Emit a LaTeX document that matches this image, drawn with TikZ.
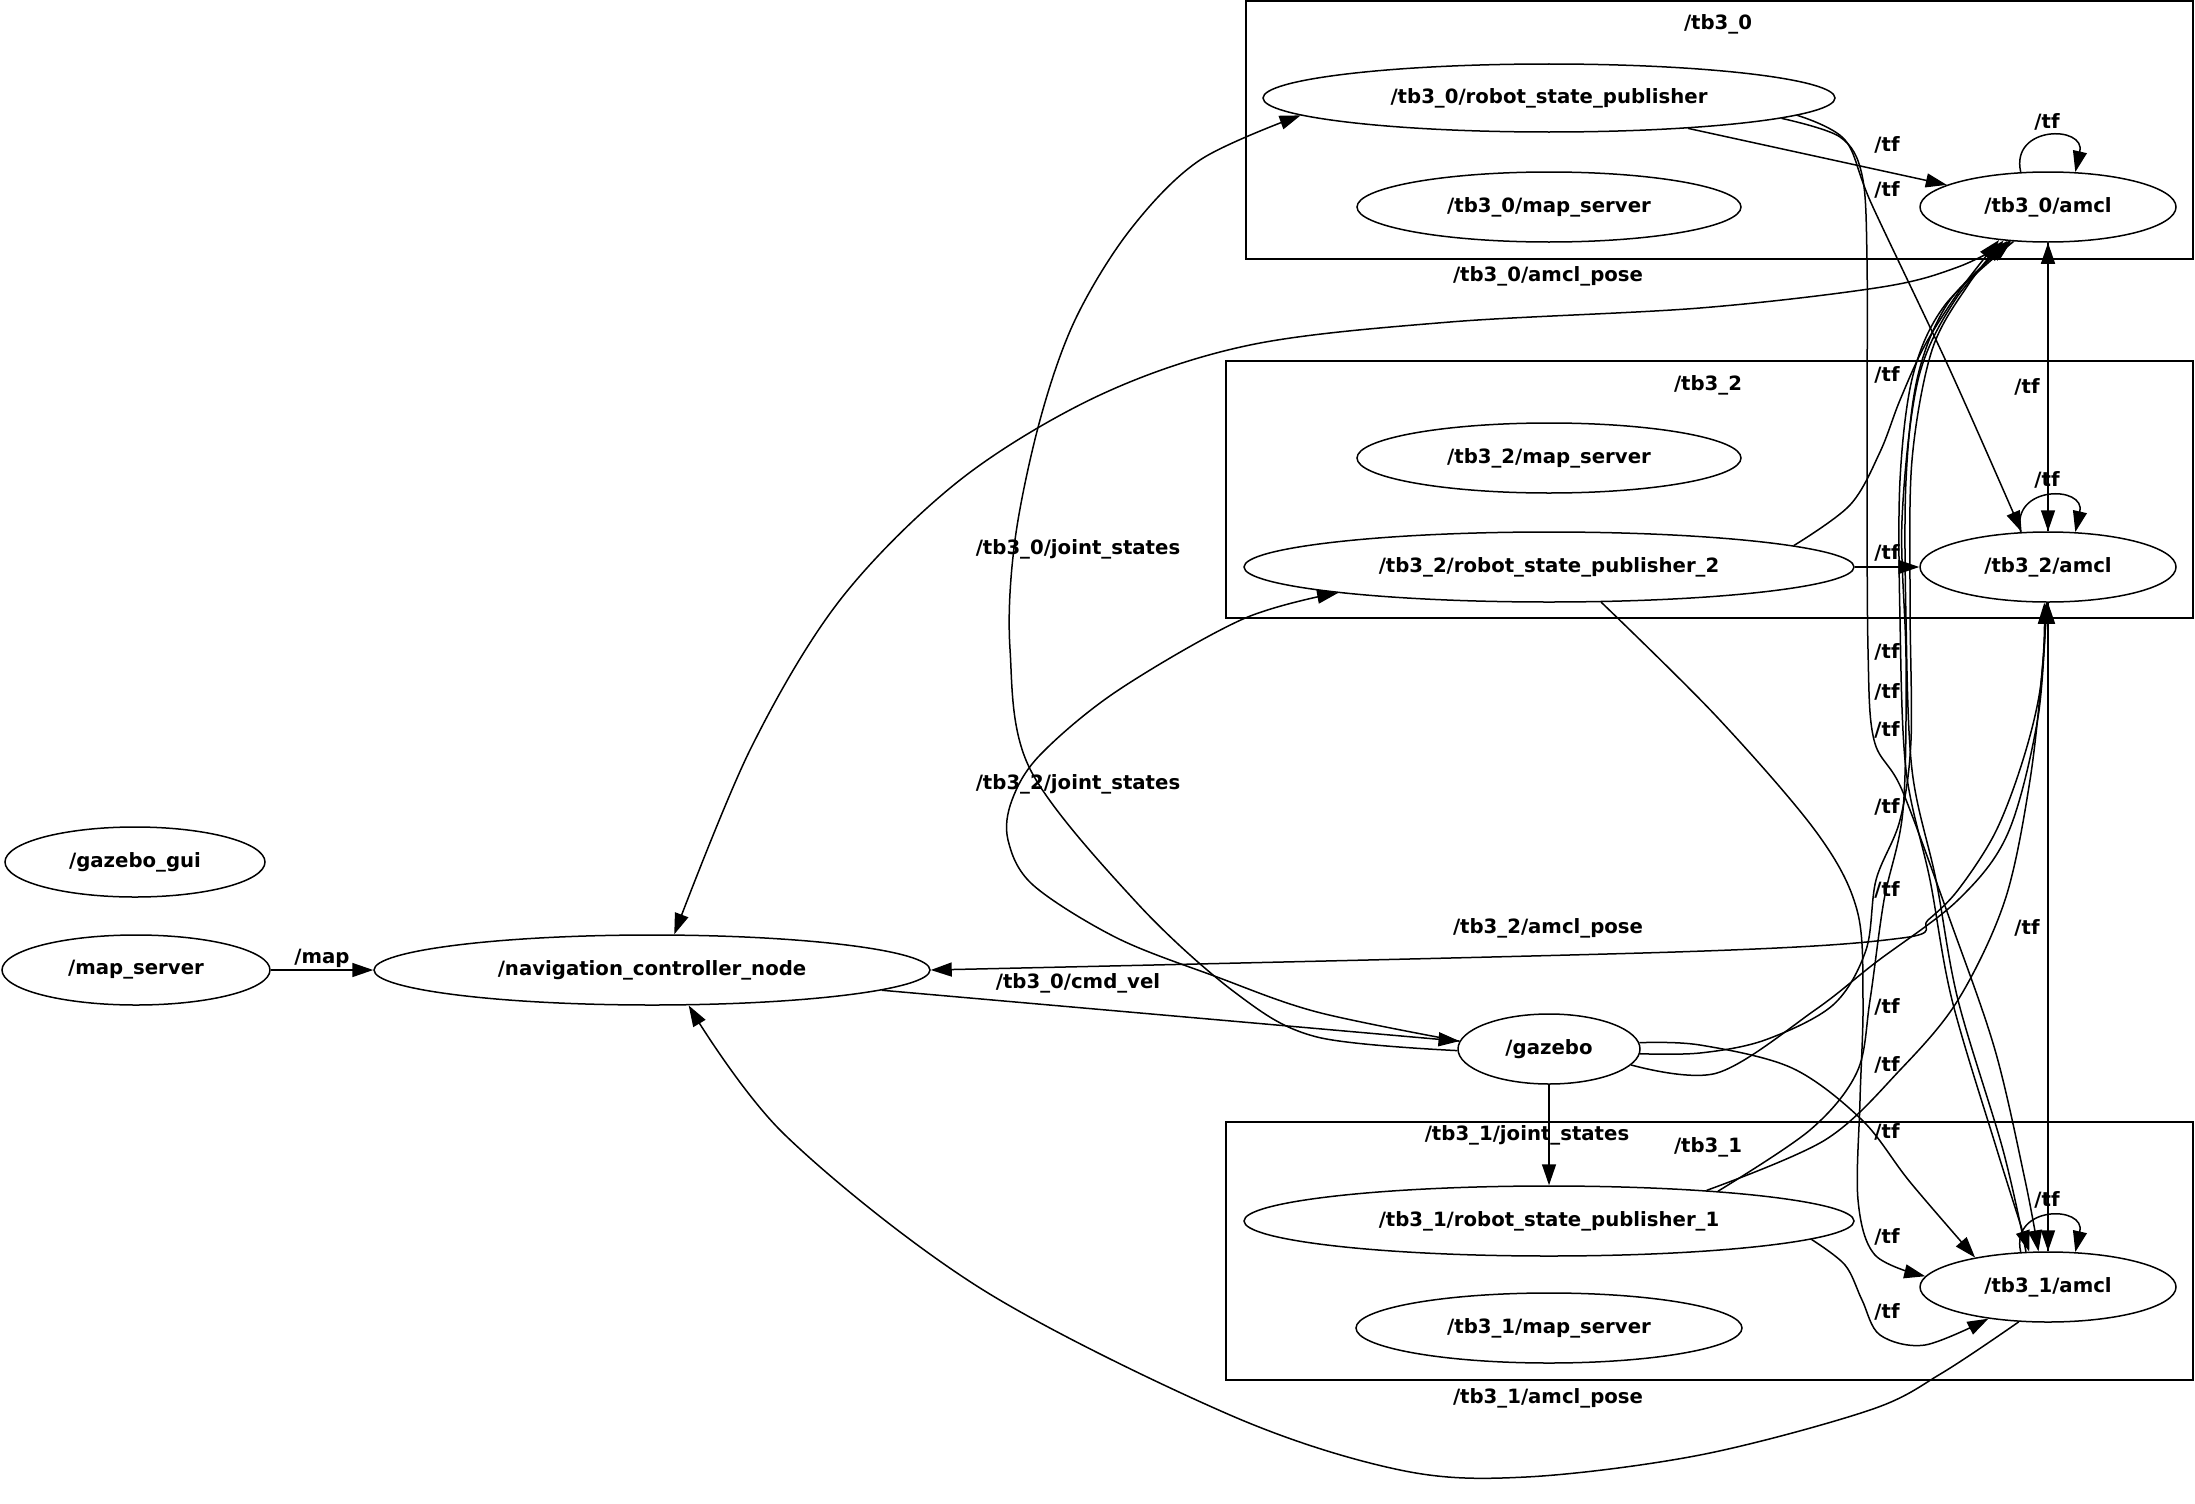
\documentclass[tikz,border=0pt]{standalone}
\usepackage{fontspec}
\setmainfont{DejaVu Sans}
\usetikzlibrary{shapes.geometric,arrows.meta}
\begin{document}
\begin{tikzpicture}[x=1pt,y=-1pt,
  every node/.style={font=\bfseries\fontsize{19.7}{22}\selectfont},
  ros/.style={ellipse,draw,line width=1.5pt,inner sep=0pt,minimum height=70pt},
  grp/.style={draw,line width=1.5pt},
  lbl/.style={inner sep=0pt},
  topic/.style={line width=1.5pt,-{Triangle[length=21pt,width=14pt]}},
  sm/.style={smooth,tension=0.55}]
\fill[white] (0,0) rectangle (2195,1504);
\useasboundingbox (0,0) rectangle (2195,1504);

% namespace groups
\draw[grp] (1246,1) rectangle (2193,259);
\draw[grp] (1226,361) rectangle (2193,618);
\draw[grp] (1226,1122) rectangle (2193,1380);
\node[lbl] (g0) at (1718,24) {/tb3\_0};
\node[lbl] (g2) at (1708,385) {/tb3\_2};
\node[lbl] (g1) at (1708,1147) {/tb3\_1};

% ROS nodes
\node[ros,minimum width=260pt] (gazebogui) at (135,862) {/gazebo\_gui};
\node[ros,minimum width=268pt] (mapserver) at (136,970) {/map\_server};
\node[ros,minimum width=556pt] (nav) at (652,970) {/navigation\_controller\_node};
\node[ros,minimum width=182pt] (gazebo) at (1549,1049) {/gazebo};
\node[ros,minimum width=572pt,minimum height=68pt] (rsp0) at (1549,98) {/tb3\_0/robot\_state\_publisher};
\node[ros,minimum width=384pt] (ms0) at (1549,207) {/tb3\_0/map\_server};
\node[ros,minimum width=256pt] (amcl0) at (2048,207) {/tb3\_0/amcl};
\node[ros,minimum width=384pt] (ms2) at (1549,458) {/tb3\_2/map\_server};
\node[ros,minimum width=610pt] (rsp2) at (1549,567) {/tb3\_2/robot\_state\_publisher\_2};
\node[ros,minimum width=256pt] (amcl2) at (2048,567) {/tb3\_2/amcl};
\node[ros,minimum width=610pt] (rsp1) at (1549,1221) {/tb3\_1/robot\_state\_publisher\_1};
\node[ros,minimum width=386pt] (ms1) at (1549,1328) {/tb3\_1/map\_server};
\node[ros,minimum width=256pt] (amcl1) at (2048,1287) {/tb3\_1/amcl};

% straight topic connections
\draw[topic] (mapserver) -- (nav);
\draw[topic] (nav) -- (gazebo);
\draw[topic] (gazebo) -- (rsp1);
\draw[topic] (rsp0) -- (amcl0);
\draw[topic] (rsp2) -- (amcl2);
\draw[topic] (amcl2) -- (amcl0);
\draw[topic] (amcl0) -- (amcl2);
\draw[topic] (amcl1) -- (amcl2);
\draw[topic] (amcl2) -- (amcl1);

% self loops on /tf
\draw[topic] (amcl0.128) .. controls (2010,125) and (2086,125) .. (amcl0.52);
\draw[topic] (amcl2.128) .. controls (2010,485) and (2086,485) .. (amcl2.52);
\draw[topic] (amcl1.128) .. controls (2010,1205) and (2086,1205) .. (amcl1.52);

% joint states
\draw[topic] plot[sm] coordinates {(gazebo.181) (1317,1037) (1237,994) (1137,903) (1030,769) (1010,649) (1015,540) (1040,420) (1075,320) (1130,230) (1200,160) (rsp0.184)};
\draw[topic] plot[sm] coordinates {(gazebo.175) (1317,1012) (1217,977) (1117,938) (1033,885) (1008,840) (1012,800) (1040,755) (1117,691) (1243,619) (rsp2.187)};

% amcl poses
\draw[topic] plot[sm] coordinates {(amcl0.222) (1958,267) (1882,287) (1700,308) (1450,322) (1250,345) (1100,395) (960,480) (840,600) (750,750) (nav.58)};
\draw[topic] plot[sm] coordinates {(amcl2.268) (2040,690) (2022,763) (1995,833) (1958,890) (1928,920) (1902,938) (1675,952) (nav.east)};
\draw[topic] plot[sm] coordinates {(amcl1.230) (1942,1373) (1870,1410) (1700,1455) (1526,1477) (1400,1470) (1230,1415) (980,1288) (784,1134) (nav.316)};

% tf connections
\draw[topic] plot[sm] coordinates {(rsp0.356) (1845,140) (1872,205) (1950,370) (amcl2.127)};
\draw[topic] plot[sm] coordinates {(rsp0.355) (1840,137) (1862,175) (1867,260) (1867,450) (1868,650) (1874,740) (1902,790) (1950,920) (1995,1050) (2025,1180) (amcl1.105)};
\draw[topic] plot[sm] coordinates {(rsp2.5) (1850,505) (1880,452) (1900,400) (1925,345) (1960,290) (amcl0.214)};
\draw[topic] plot[sm] coordinates {(gazebo.357) (1700,1053) (1765,1040) (1833,1005) (1866,950) (1876,880) (1900,820) (1911,740) (1910,600) (1912,460) (1932,350) (1968,285) (amcl0.217)};
\draw[topic] plot[sm] coordinates {(rsp1.10) (1810,1130) (1857,1072) (1870,1000) (1884,900) (1903,810) (1906,660) (1902,520) (1918,380) (1955,300) (amcl0.220)};
\draw[topic] plot[sm] coordinates {(amcl1.122) (2003,1150) (1958,1000) (1936,880) (1912,770) (1906,620) (1906,480) (1918,375) (1950,300) (amcl0.223)};
\draw[topic] plot[sm] coordinates {(amcl0.225) (1945,305) (1913,375) (1900,480) (1900,620) (1906,770) (1930,880) (1952,1000) (1997,1150) (amcl1.118)};
\draw[topic] plot[sm] coordinates {(rsp2.326) (1717,717) (1817,833) (1857,910) (1863,1000) (1860,1100) (1858,1200) (1875,1255) (amcl1.175)};
\draw[topic] plot[sm] coordinates {(gazebo.4) (1700,1045) (1792,1068) (1862,1120) (1910,1182) (amcl1.158)};
\draw[topic] plot[sm] coordinates {(rsp1.356) (1845,1265) (1862,1300) (1880,1335) (1925,1345) (amcl1.208)};
\draw[topic] plot[sm] coordinates {(gazebo.349) (1717,1073) (1815,1010) (1875,963) (1958,900) (2008,833) (2038,717) (amcl2.267)};
\draw[topic] plot[sm] coordinates {(rsp1.11) (1825,1140) (1900,1070) (1958,1000) (2005,900) (2030,780) (2043,660) (amcl2.264)};

% topic labels
\node[lbl] (tmap) at (322,958) {/map};
\node[lbl] (tcmd) at (1078,983) {/tb3\_0/cmd\_vel};
\node[lbl] (tjs0) at (1078,549) {/tb3\_0/joint\_states};
\node[lbl] (tjs2) at (1078,784) {/tb3\_2/joint\_states};
\node[lbl] (tjs1) at (1527,1135) {/tb3\_1/joint\_states};
\node[lbl] (tpose0) at (1548,276) {/tb3\_0/amcl\_pose};
\node[lbl] (tpose2) at (1548,928) {/tb3\_2/amcl\_pose};
\node[lbl] (tpose1) at (1548,1398) {/tb3\_1/amcl\_pose};
\foreach \n/\x/\y in {a/1887/145, b/1887/190, c/2047/122, d/1887/375, e/2027/387,
  f/2047/480, g/1887/553, h/1887/652, i/1887/692, j/1887/730, k/1887/807,
  l/1887/890, m/2027/928, n/1887/1007, o/1887/1065, p/1887/1132, q/2047/1200,
  r/1887/1237, s/1887/1312}
  \node[lbl] (tf\n) at (\x,\y) {/tf};
\end{tikzpicture}
\end{document}
